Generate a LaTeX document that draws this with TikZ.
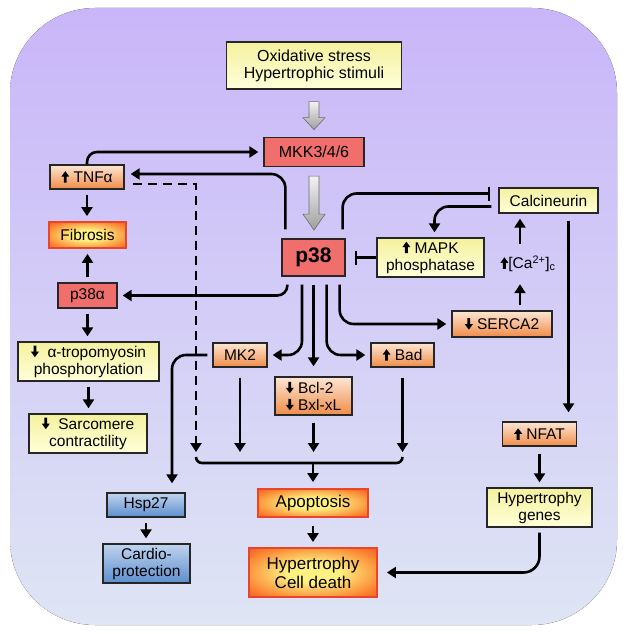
\documentclass[tikz,border=0pt]{standalone}
\usepackage{fontspec}
\setmainfont{Liberation Sans}
\usepackage{xcolor}
\usepackage{tikz}
\usetikzlibrary{arrows.meta,positioning,calc}
\definecolor{bgtop}{RGB}{201,182,249}
\definecolor{bgbot}{RGB}{222,229,244}
\definecolor{ytop}{RGB}{244,241,158}
\definecolor{ybot}{RGB}{255,255,218}
\definecolor{otop}{RGB}{252,230,212}
\definecolor{obot}{RGB}{240,140,72}
\definecolor{redfill}{RGB}{240,110,108}
\definecolor{btop}{RGB}{192,212,238}
\definecolor{bbot}{RGB}{92,142,206}
\definecolor{glowyel}{RGB}{255,240,130}
\definecolor{gloworg}{RGB}{250,135,50}
\definecolor{glowred}{RGB}{236,68,40}
\pgfdeclareradialshading{glowshade}{\pgfpoint{0bp}{0bp}}{color(0bp)=(glowyel); color(10bp)=(glowyel); color(28bp)=(gloworg); color(40bp)=(glowred); color(75bp)=(glowred)}
% heavy up / down arrows used inside the labels
\newcommand{\upar}{\begin{pgfpicture}\pgfsetfillcolor{black}%
  \pgfpathmoveto{\pgfpoint{-1.4pt}{0pt}}\pgfpathlineto{\pgfpoint{1.4pt}{0pt}}%
  \pgfpathlineto{\pgfpoint{1.4pt}{6pt}}\pgfpathlineto{\pgfpoint{4pt}{6pt}}%
  \pgfpathlineto{\pgfpoint{0pt}{11.5pt}}\pgfpathlineto{\pgfpoint{-4pt}{6pt}}%
  \pgfpathlineto{\pgfpoint{-1.4pt}{6pt}}\pgfpathclose\pgfusepath{fill}\end{pgfpicture}}
\newcommand{\dnar}{\begin{pgfpicture}\pgfsetfillcolor{black}%
  \pgfpathmoveto{\pgfpoint{-1.4pt}{11.5pt}}\pgfpathlineto{\pgfpoint{1.4pt}{11.5pt}}%
  \pgfpathlineto{\pgfpoint{1.4pt}{5.5pt}}\pgfpathlineto{\pgfpoint{4pt}{5.5pt}}%
  \pgfpathlineto{\pgfpoint{0pt}{0pt}}\pgfpathlineto{\pgfpoint{-4pt}{5.5pt}}%
  \pgfpathlineto{\pgfpoint{-1.4pt}{5.5pt}}\pgfpathclose\pgfusepath{fill}\end{pgfpicture}}

\begin{document}
\begin{tikzpicture}[x=1pt, y=-1pt,
  box/.style={draw=black!85, line width=1.3pt, inner sep=0pt, align=center, font=\fontsize{15.5}{17}\selectfont},
  ybox/.style={box, top color=ytop, bottom color=ybot},
  obox/.style={box, top color=otop, bottom color=obot},
  rbox/.style={box, fill=redfill},
  bbox/.style={box, top color=btop, bottom color=bbot},
  gbox/.style={box, draw=glowred, line width=1.8pt, shading=glowshade},
  link/.style={line width=2.6pt},
  arr/.style={link, -{Triangle[width=11pt,length=9pt]}, shorten <=5pt, shorten >=5pt},
  inh/.style={link, -{Bar[width=14pt]}},
  graybig/.style={top color=gray!10, bottom color=gray!75, draw=gray!85!black, line width=0.6pt}]
\useasboundingbox (0,0) rectangle (626,634);
% Background panel
\fill[top color=bgtop, bottom color=bgbot, rounded corners=85pt] (10,8) rectangle (617,625);

% Stimulus and kinase cascade
\node[ybox, minimum width=175, minimum height=47, font=\fontsize{16}{17}\selectfont] (stress) at (314,65.5) {Oxidative stress\\Hypertrophic stimuli};
\node[rbox, minimum width=100, minimum height=29, font=\fontsize{16}{18}\selectfont] (mkk) at (314,152) {MKK3/4/6};
\node[rbox, minimum width=63, minimum height=37, font=\fontsize{21}{24}\selectfont\bfseries] (p38) at (313.5,257.5) {p38};

% Left column
\node[obox, minimum width=74, minimum height=24] (tnf) at (87,177) {\upar\ TNFα};
\node[gbox, minimum width=77, minimum height=26] (fib) at (87.5,235) {Fibrosis};
\node[rbox, minimum width=59, minimum height=25] (p38a) at (87.5,295.5) {p38α};
\node[ybox, minimum width=141, minimum height=39] (tropo) at (88.5,361.5) {\dnar\ \ α-tropomyosin\\phosphorylation};
\node[ybox, minimum width=118, minimum height=39] (sarc) at (88,433.5) {\dnar\ \ Sarcomere\\contractility};

% Middle column
\node[obox, minimum width=54, minimum height=24] (mk2) at (240,355) {MK2};
\node[obox, minimum width=77, minimum height=38, align=left] (bcl) at (313.5,396) {\dnar\ Bcl-2\\\dnar\ Bxl-xL};
\node[obox, minimum width=63, minimum height=24] (bad) at (402.5,355) {\upar\ Bad};
\node[bbox, minimum width=78, minimum height=24] (hsp) at (146,505) {Hsp27};
\node[bbox, minimum width=87, minimum height=39] (cardio) at (146.5,563.5) {Cardio-\\protection};
\node[gbox, minimum width=110, minimum height=28, font=\fontsize{17}{19}\selectfont] (apop) at (313,503) {Apoptosis};
\node[gbox, minimum width=128, minimum height=49, font=\fontsize{17}{19}\selectfont] (hcd) at (313,572.5) {Hypertrophy\\Cell death};

% Right column
\node[ybox, minimum width=99, minimum height=25] (calc) at (548.5,200.5) {Calcineurin};
\node[ybox, minimum width=107, minimum height=39] (mapk) at (430.5,257.5) {\upar\ MAPK\\phosphatase};
\node[font=\fontsize{15.5}{17}\selectfont, minimum height=30, inner sep=0pt] (ca) at (528,264) {\upar[Ca\textsuperscript{2+}]\textsubscript{c}};
\node[obox, minimum width=100, minimum height=26] (serca) at (502,324) {\dnar\ SERCA2};
\node[obox, minimum width=74, minimum height=24] (nfat) at (539.5,434) {\upar\ NFAT};
\node[ybox, minimum width=105, minimum height=39] (hgen) at (539.5,507.5) {Hypertrophy\\genes};

% Block arrows of the cascade
\path[graybig] ($(stress.south)+(-5,12)$) -- ++(10,0) -- ++(0,16) -- ++(6,0) -- ++(-11,12) -- ++(-11,-12) -- ++(6,0) -- cycle;
\path[graybig] ($(mkk.south)+(-5,9)$) -- ++(10,0) -- ++(0,38) -- ++(6,0) -- ++(-11,16) -- ++(-11,-16) -- ++(6,0) -- cycle;

% TNFa loop
\draw[arr, rounded corners=10pt, shorten <=0pt] (tnf.north) |- (mkk.west);
\draw[arr, rounded corners=14pt, shorten <=9pt, shorten >=6pt] ($(p38.north west)+(4,0)$) |- ($(tnf.east)+(0,-3)$);
\coordinate (brl) at (196,457);
\draw[arr, dashed, dash pattern=on 9pt off 6pt, shorten <=8pt] ($(tnf.east)+(0,7)$) -| (brl);
\draw[arr] (tnf.south) -- (tnf.south |- fib.north);
\draw[arr] (p38a.north) -- (p38a.north |- fib.south);
\draw[arr] (p38a.south) -- (p38a.south |- tropo.north);
\draw[arr] (tropo.south) -- (tropo.south |- sarc.north);

% Calcineurin branch
\draw[inh, rounded corners=14pt, shorten <=9pt, shorten >=8pt] ($(p38.north east)+(-3,0)$) |- ($(calc.west)+(0,-7)$);
\draw[arr, rounded corners=14pt, shorten <=7pt] ($(calc.west)+(0,6)$) -| ($(mapk.north)+(4,0)$);
\draw[inh, shorten >=9pt] (mapk.west) -- (p38.east);
\coordinate (cacol) at ($(ca.center)+(-8,0)$);
\draw[arr] (cacol |- serca.north) -- (cacol |- ca.south);
\draw[arr] (cacol |- ca.north) -- (cacol |- calc.south);
\coordinate (ncol) at ($(calc.south)+(20,0)$);
\draw[arr, shorten <=7pt, shorten >=9pt] (ncol) -- (ncol |- nfat.north);
\draw[arr, shorten <=7pt] (nfat.south) -- (hgen.north);
\draw[arr, rounded corners=16pt, shorten >=9pt] (hgen.south) |- (hcd.east);

% p38 targets
\draw[arr, rounded corners=14pt, shorten <=8pt] ($(p38.south east)+(-6,0)$) |- (serca.west);
\draw[arr, rounded corners=14pt, shorten <=8pt] ($(p38.south east)+(-19,0)$) |- (bad.west);
\draw[arr, shorten <=8pt, shorten >=10pt] (p38.south) -- (bcl.north);
\draw[arr, rounded corners=14pt, shorten <=8pt] ($(p38.south)+(-11.5,0)$) |- (mk2.east);
\draw[arr, rounded corners=10pt, shorten <=8pt] ($(p38.south west)+(6,0)$) |- (p38a.east);
\draw[arr, rounded corners=14pt, shorten >=9pt] (mk2.west) -| ($(hsp.north)+(26,0)$);
\draw[arr] (hsp.south) -- (hsp.south |- cardio.north);

% Apoptosis bracket
\coordinate (brr) at (bad.south |- brl);
\coordinate (brm) at ($(apop.north |- brl)+(0,6)$);
\draw[arr, shorten <=10pt] (mk2.south) -- (mk2.south |- brl);
\draw[arr, shorten <=7pt] (bcl.south) -- (bcl.south |- brl);
\draw[arr, shorten <=10pt] (bad.south) -- (brr);
\draw[link, rounded corners=6pt] (brl) |- (brm) -| (brr);
\draw[arr, shorten <=0pt, shorten >=6pt] (brm) -- (apop.north);
\draw[arr, shorten <=8pt] (apop.south) -- (hcd.north);
\end{tikzpicture}
\end{document}
